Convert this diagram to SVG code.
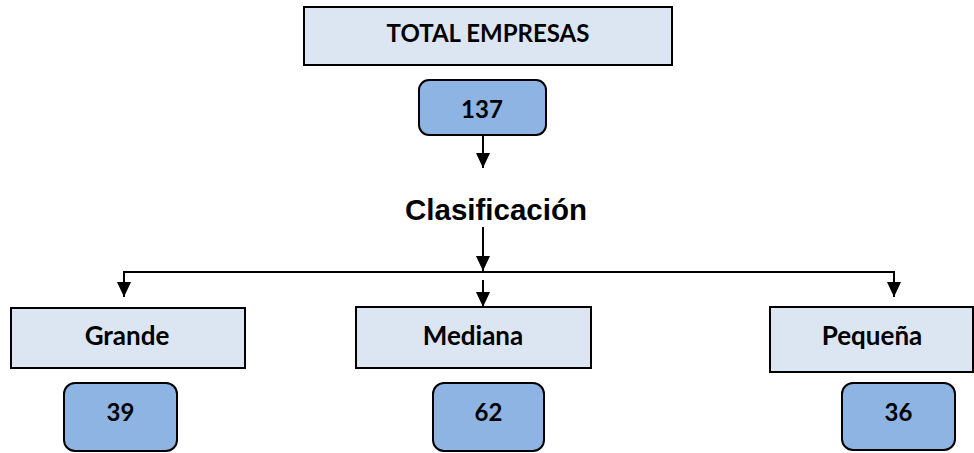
<svg xmlns="http://www.w3.org/2000/svg" width="974" height="453" viewBox="0 0 974 453">
  <defs>
    <marker id="arrow" viewBox="0 0 15 14" refX="15" refY="7" markerWidth="15" markerHeight="14" markerUnits="userSpaceOnUse" orient="auto">
      <path d="M0,0 L15,7 L0,14 Z" fill="#000"/>
    </marker>
    <style>
      .label { fill: #DCE6F2; stroke: #000; stroke-width: 2; }
      .count { fill: #8EB4E3; stroke: #000; stroke-width: 2; }
      .t { font-family: Lato, "Liberation Sans", sans-serif; font-weight: bold; font-size: 24px; fill: #000; text-anchor: middle; }
      .w { font-size: 26px; }
      .title { font-family: "Liberation Sans", Arial, sans-serif; font-weight: bold; font-size: 29.5px; fill: #000; text-anchor: middle; }
      .conn { fill: none; stroke: #000; stroke-width: 2; }
    </style>
  </defs>
  <rect width="974" height="453" fill="#fff"/>

  <g id="total">
    <rect class="label" x="304" y="7" width="368" height="58"/>
    <text class="t" x="488" y="42">TOTAL EMPRESAS</text>
  </g>
  <g id="total-count">
    <rect class="count" x="419" y="80" width="127" height="55" rx="10"/>
    <text class="t" x="482" y="118">137</text>
  </g>
  <g id="clasificacion">
    <text class="title" x="496" y="220">Clasificación</text>
  </g>
  <g id="grande">
    <rect class="label" x="11" y="308" width="234" height="60"/>
    <text class="t w" x="127" y="345">Grande</text>
  </g>
  <g id="grande-count">
    <rect class="count" x="64" y="383" width="113" height="68" rx="11"/>
    <text class="t" x="120.5" y="421">39</text>
  </g>
  <g id="mediana">
    <rect class="label" x="356" y="307" width="235" height="61"/>
    <text class="t w" x="473" y="345">Mediana</text>
  </g>
  <g id="mediana-count">
    <rect class="count" x="433" y="383" width="111" height="68" rx="11"/>
    <text class="t" x="488.5" y="421">62</text>
  </g>
  <g id="pequena">
    <rect class="label" x="770" y="307" width="203" height="65"/>
    <text class="t w" x="872" y="345">Pequeña</text>
  </g>
  <g id="pequena-count">
    <rect class="count" x="842" y="383" width="113" height="67" rx="11"/>
    <text class="t" x="898.5" y="421">36</text>
  </g>

  <g id="connectors">
    <line class="conn" x1="483" y1="135" x2="483" y2="168" marker-end="url(#arrow)"/>
    <line class="conn" x1="483" y1="227" x2="483" y2="271" marker-end="url(#arrow)"/>
    <line class="conn" x1="124" y1="272" x2="894" y2="272"/>
    <line class="conn" x1="124" y1="271" x2="124" y2="297" marker-end="url(#arrow)"/>
    <line class="conn" x1="483" y1="280" x2="483" y2="307" marker-end="url(#arrow)"/>
    <line class="conn" x1="894" y1="271" x2="894" y2="297" marker-end="url(#arrow)"/>
  </g>
</svg>
